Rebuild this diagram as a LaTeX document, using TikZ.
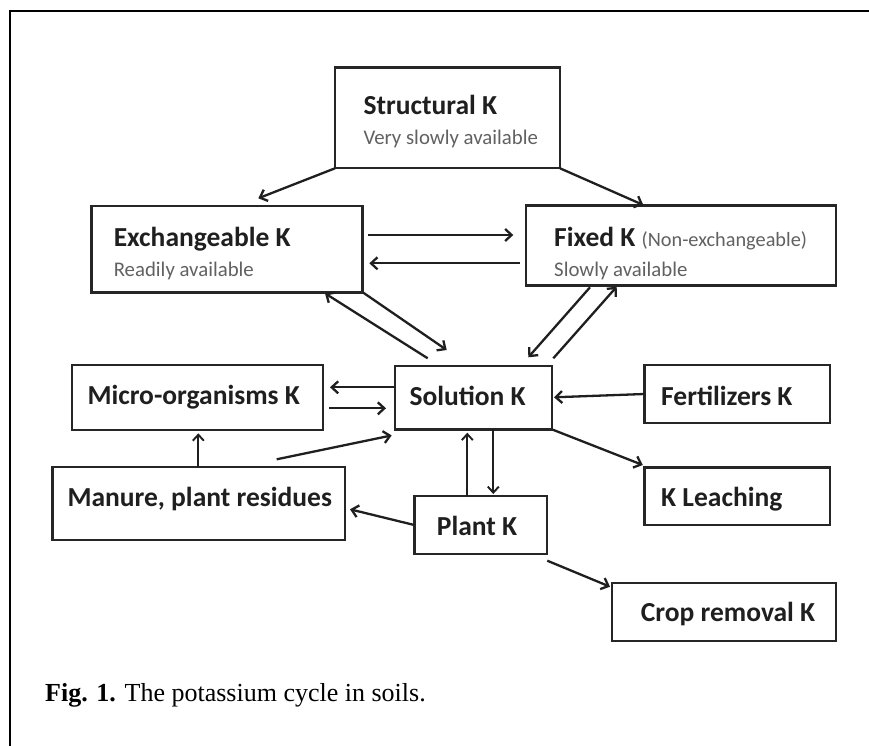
\documentclass[tikz,border=0pt]{standalone}
\usepackage{fontspec}
\setmainfont{Carlito}
\newfontfamily\capfont{Liberation Serif}
\usetikzlibrary{arrows.meta,calc}
\tikzset{
  box/.style={draw=black!85, line width=2.4pt, rectangle, inner sep=0pt, outer sep=0pt, fill=white},
  lbl/.style={inner sep=0pt, anchor=base west, font=\fontsize{27.5}{30}\selectfont\bfseries, text=black!88},
  sub/.style={inner sep=0pt, anchor=base west, font=\fontsize{20.8}{24}\selectfont, text=black!62},
  arr/.style={draw=black!88, line width=2.3pt, -{Straight Barb[length=6.5pt,width=12pt]}},
  thinarr/.style={draw=black!88, line width=1.9pt, -{Straight Barb[length=6pt,width=11pt]}},
}
\begin{document}
\begin{tikzpicture}[x=1pt,y=-1pt]
\useasboundingbox (0,0) rectangle (869,746);
% frame
\draw[line width=1.8pt] (869,11) -- (10,11) -- (10,746);

% boxes
\node[box, minimum width=225pt, minimum height=100.6pt] (st) at (447.5,118) {};
\node[box, minimum width=271pt, minimum height=86.6pt] (ex) at (227,249) {};
\node[box, minimum width=310pt, minimum height=80pt] (fx) at (681,245.5) {};
\node[box, minimum width=251pt, minimum height=65pt] (mi) at (197.2,397.5) {};
\node[box, minimum width=157pt, minimum height=63.4pt] (so) at (473.5,397.7) {};
\node[box, minimum width=185.7pt, minimum height=57.6pt] (fe) at (737.2,394) {};
\node[box, minimum width=292.6pt, minimum height=72.6pt] (ma) at (198.7,503.5) {};
\node[box, minimum width=132.4pt, minimum height=58pt] (pl) at (480.5,525) {};
\node[box, minimum width=185.7pt, minimum height=57.4pt] (le) at (737.2,496) {};
\node[box, minimum width=224.4pt, minimum height=58.4pt] (cr) at (723.9,612) {};

% texts
\node[lbl] (stT) at (363.3,115) {Structural K};
\node[sub] (stS) at (363.3,145) {Very slowly available};
\node[lbl] (exT) at (113.6,246) {Exchangeable K};
\node[sub] (exS) at (113.6,276) {Readily available};
\node[lbl] (fxT) at (554,246) {Fixed K {\fontsize{20.3}{24}\selectfont\mdseries\color{black!62}(Non-exchangeable)}};
\node[sub] (fxS) at (554,276) {Slowly available};
\node[lbl] (miT) at (87.3,404.3) {Micro-organisms K};
\node[lbl] (soT) at (409.3,405) {Solution K};
\node[lbl] (feT) at (661,405) {Fertilizers K};
\node[lbl] (maT) at (67.3,506.7) {Manure, plant residues};
\node[lbl] (plT) at (436.7,535) {Plant K};
\node[lbl] (leT) at (661,506.7) {K Leaching};
\node[lbl] (crT) at (640.7,621.7) {Crop removal K};

\node[inner sep=0pt, anchor=base west, font=\capfont\fontsize{26}{28}\selectfont] (cap) at (45,701.7) {\textbf{Fig. 1.} The potassium cycle in soils.};

% connectors
\draw[arr] (st.south west) -- ($(ex.north)+(31.3,-7.4)$);
\draw[arr] (st.south east) -- ($(fx.north)+(-37.7,-0.5)$);
\draw[arr] ($(ex.east)+(5.8,-14)$) -- ($(fx.west)+(-12.7,-10.5)$);
\draw[arr] ($(fx.west)+(-6,17.8)$) -- ($(ex.east)+(6.8,14.3)$);
\draw[arr] ($(so.north)+(-45.8,-7.7)$) -- ($(ex.south)+(98,1)$);
\draw[arr] ($(ex.south east)+(0.8,0.4)$) -- ($(so.north)+(-26.8,-16)$);
\draw[arr] ($(fx.south)+(-91,1.8)$) -- ($(so.north)+(54.8,-8.7)$);
\draw[arr] ($(so.north east)+(1.3,-7.7)$) -- ($(fx.south)+(-64.3,1.2)$);
\draw[arr] ($(so.west)+(0,-10.4)$) -- ($(mi.east)+(7.3,-10.2)$);
\draw[arr] ($(mi.east)+(6.6,10.8)$) -- ($(so.west)+(-9,10.6)$);
\draw[arr] (fe.west) -- ($(so.east)+(2,-0.4)$);
\draw[thinarr] ($(ma.north)+(-0.4,0)$) -- ($(mi.south)+(1.1,3.3)$);
\draw[arr] ($(ma.north)+(78,-7.9)$) -- ($(so.south west)+(-3.3,6)$);
\draw[thinarr] ($(pl.north)+(-13.2,0)$) -- ($(so.south)+(-6.2,3.3)$);
\draw[thinarr] ($(so.south)+(19.8,0)$) -- ($(pl.north)+(12.8,-2)$);
\draw[arr] (so.south east) -- ($(le.north west)+(-1.6,-2.3)$);
\draw[arr] (pl.west) -- ($(ma.east)+(5,5.8)$);
\draw[arr] ($(pl.south east)+(0.6,6.7)$) -- ($(cr.north west)+(-1.7,3.9)$);
\end{tikzpicture}
\end{document}
